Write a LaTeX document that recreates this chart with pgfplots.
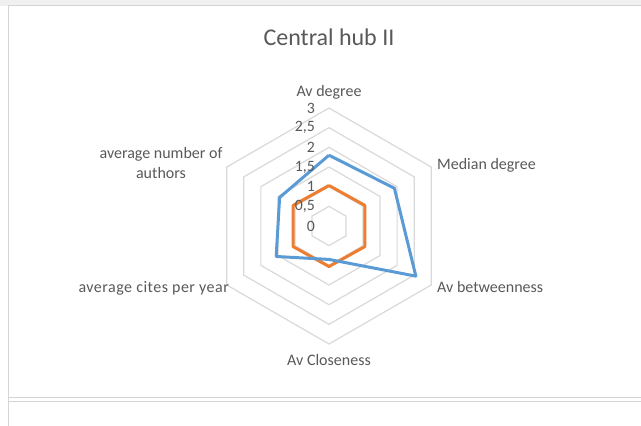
\documentclass[border=0pt]{standalone}
\usepackage{pgfplots}
\pgfplotsset{compat=1.18}
\usepgfplotslibrary{polar}
\usepackage{fontspec}
\setmainfont{Carlito}
\definecolor{txt}{HTML}{595959}
\definecolor{gridc}{HTML}{D9D9D9}
\definecolor{sblue}{HTML}{5B9BD5}
\definecolor{sorange}{HTML}{ED7D31}
\definecolor{framec}{HTML}{D4D4D4}
\begin{document}
\begin{tikzpicture}[x=1pt,y=1pt]
\path[use as bounding box] (0,0) rectangle (641,426);
\fill[white] (0,0) rectangle (641,426);
\fill[black!6] (0,420) rectangle (641,426);
\draw[framec, line width=1pt] (8,0) -- (8,420.5) -- (641,420.5);
\draw[framec, line width=1pt] (8,28) -- (641,28);
\draw[framec, line width=0.6pt] (8,25) -- (641,25);
\begin{polaraxis}[at={(329pt,200pt)}, anchor=origin, scale only axis,
  width=236pt, height=236pt, ymin=0, ymax=3,
  hide axis, clip=false]
\addplot[gridc, line width=1.2pt] coordinates {(90,0.5) (30,0.5) (330,0.5) (270,0.5) (210,0.5) (150,0.5) (90,0.5)};
\addplot[gridc, line width=1.2pt] coordinates {(90,1) (30,1) (330,1) (270,1) (210,1) (150,1) (90,1)};
\addplot[gridc, line width=1.2pt] coordinates {(90,1.5) (30,1.5) (330,1.5) (270,1.5) (210,1.5) (150,1.5) (90,1.5)};
\addplot[gridc, line width=1.2pt] coordinates {(90,2) (30,2) (330,2) (270,2) (210,2) (150,2) (90,2)};
\addplot[gridc, line width=1.2pt] coordinates {(90,2.5) (30,2.5) (330,2.5) (270,2.5) (210,2.5) (150,2.5) (90,2.5)};
\addplot[gridc, line width=1.2pt] coordinates {(90,3) (30,3) (330,3) (270,3) (210,3) (150,3) (90,3)};
\addplot[sorange, line width=3pt, line join=round] coordinates {(90,1.03) (30,1.05) (330,1.05) (270,1.03) (210,1.05) (150,1.05) (90,1.03)};
\addplot[sblue, line width=3pt, line join=round] coordinates {(90,1.8) (30,1.92) (330,2.55) (270,0.85) (210,1.55) (150,1.45) (90,1.8)};
\foreach \v/\l in {0/0,0.5/{0,5},1/1,1.5/{1,5},2/2,2.5/{2,5},3/3} {
  \edef\tmp{\noexpand\node[anchor=east, text=txt, inner sep=0pt, font=\noexpand\fontsize{15.8}{18}\noexpand\selectfont] at (axis cs:90,\v) [xshift=-14pt] {\l};}
  \tmp
}
\end{polaraxis}
\begin{scope}[every node/.style={text=txt, inner sep=0pt, font=\fontsize{16}{20}\selectfont}]
\node at (329,389) {\fontsize{24}{27}\selectfont Central hub II};
\node at (329,334) {Av degree};
\node[anchor=west] at (437,261) {Median degree};
\node[anchor=west] at (437,139) {Av betweenness};
\node at (329,66) {Av Closeness};
\node[anchor=east] at (229,138) {\addfontfeature{LetterSpace=3}average cites per year};
\node[align=center] at (161,263) {average number of\\authors};
\end{scope}
\end{tikzpicture}
\end{document}
